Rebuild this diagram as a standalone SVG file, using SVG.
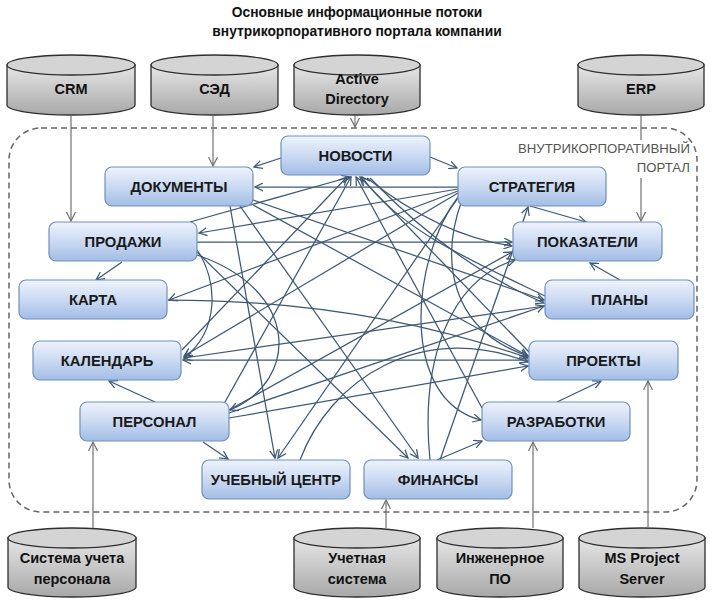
<svg xmlns="http://www.w3.org/2000/svg" width="713" height="600" viewBox="0 0 713 600">
<defs>
<linearGradient id="gBox" x1="0" y1="0" x2="0" y2="1">
<stop offset="0" stop-color="#eef3fc"/>
<stop offset="0.5" stop-color="#cbdaf2"/>
<stop offset="1" stop-color="#a2bde6"/>
</linearGradient>
<linearGradient id="gCyl" x1="0" y1="0" x2="0" y2="1">
<stop offset="0" stop-color="#e6e6e6"/>
<stop offset="1" stop-color="#a8a8a8"/>
</linearGradient>
<marker id="ah" viewBox="0 0 10 10" refX="9" refY="5" markerWidth="9" markerHeight="9" markerUnits="userSpaceOnUse" orient="auto-start-reverse">
<path d="M0,0.5 L9,5 L0,9.5" fill="none" stroke="#3f5a78" stroke-width="1.4"/>
</marker>
<marker id="ahg" viewBox="0 0 10 10" refX="9" refY="5" markerWidth="10" markerHeight="10" markerUnits="userSpaceOnUse" orient="auto-start-reverse">
<path d="M0,0.5 L9,5 L0,9.5" fill="none" stroke="#707070" stroke-width="1.2"/>
</marker>
</defs>
<style>
.t{font-family:"Liberation Sans",Arial,sans-serif;font-weight:bold;fill:#111;text-anchor:middle}
.node rect{fill:url(#gBox);stroke:#6f8fbf;stroke-width:1.2}
.node text{font-family:"Liberation Sans",Arial,sans-serif;font-weight:bold;font-size:14.8px;fill:#1a1a1a;text-anchor:middle}
.db path.body{fill:url(#gCyl);stroke:#2e2e2e;stroke-width:1.3}
.db ellipse{fill:#d4d4d4;stroke:#2e2e2e;stroke-width:1.3}
.db text{font-family:"Liberation Sans",Arial,sans-serif;font-weight:bold;font-size:14.5px;fill:#111;text-anchor:middle}
.ext line{stroke:#707070;stroke-width:1.2;fill:none}
.int path,.int line{stroke:#3d5876;stroke-width:1.25;fill:none;marker-end:url(#ah)}
.lbl{font-family:"Liberation Sans",Arial,sans-serif;font-size:13.2px;fill:#555;text-anchor:end}
</style>
<rect width="713" height="600" fill="#ffffff"/>

<text class="t" x="357" y="17" font-size="13.8">Основные информационные потоки</text>
<text class="t" x="357" y="36" font-size="13.8">внутрикорпоративного портала компании</text>

<rect x="9" y="128" width="688" height="384" rx="32" fill="none" stroke="#666" stroke-width="1.5" stroke-dasharray="6 4"/>
<text class="lbl" x="690" y="153">ВНУТРИКОРПОРАТИВНЫЙ</text>
<text class="lbl" x="690" y="172">ПОРТАЛ</text>

<!-- Databases -->
<g id="db-crm" class="db">
<path class="body" d="M7,65 V105 A64,10 0 0 0 135,105 V65 Z"/>
<ellipse cx="71" cy="65" rx="64" ry="10"/>
<text x="71" y="94">CRM</text>
</g>
<g id="db-sed" class="db">
<path class="body" d="M151,65 V105 A63.5,10 0 0 0 278,105 V65 Z"/>
<ellipse cx="214.5" cy="65" rx="63.5" ry="10"/>
<text x="214.5" y="94">СЭД</text>
</g>
<g id="db-ad" class="db">
<path class="body" d="M294,65 V105 A63,10 0 0 0 420,105 V65 Z"/>
<ellipse cx="357" cy="65" rx="63" ry="10"/>
<text x="357" y="84">Active</text>
<text x="357" y="104">Directory</text>
</g>
<g id="db-erp" class="db">
<path class="body" d="M578,65 V105 A63,10 0 0 0 704,105 V65 Z"/>
<ellipse cx="641" cy="65" rx="63" ry="10"/>
<text x="641" y="94">ERP</text>
</g>
<g id="db-hr" class="db">
<path class="body" d="M8,538 V587 A64,10 0 0 0 136,587 V538 Z"/>
<ellipse cx="72" cy="538" rx="64" ry="10"/>
<text x="72" y="563">Система учета</text>
<text x="72" y="584">персонала</text>
</g>
<g id="db-acc" class="db">
<path class="body" d="M294,538 V587 A63,10 0 0 0 420,587 V538 Z"/>
<ellipse cx="357" cy="538" rx="63" ry="10"/>
<text x="357" y="563">Учетная</text>
<text x="357" y="584">система</text>
</g>
<g id="db-eng" class="db">
<path class="body" d="M437,538 V587 A63,10 0 0 0 563,587 V538 Z"/>
<ellipse cx="500" cy="538" rx="63" ry="10"/>
<text x="500" y="563">Инженерное</text>
<text x="500" y="584">ПО</text>
</g>
<g id="db-msp" class="db">
<path class="body" d="M579,538 V587 A63,10 0 0 0 705,587 V538 Z"/>
<ellipse cx="642" cy="538" rx="63" ry="10"/>
<text x="642" y="563">MS Project</text>
<text x="642" y="584">Server</text>
</g>

<!-- Connectors -->
<g id="connectors">
<g class="ext">
<line x1="71" y1="115" x2="71" y2="221" marker-end="url(#ahg)"/>
<line x1="213" y1="115" x2="213" y2="166" marker-end="url(#ahg)"/>
<line x1="355" y1="115" x2="355" y2="127" marker-end="url(#ahg)"/>
<line x1="641" y1="115" x2="641" y2="140"/>
<line x1="641" y1="178" x2="641" y2="221" marker-end="url(#ahg)"/>
<line x1="93" y1="528" x2="93" y2="442" marker-end="url(#ahg)"/>
<line x1="386" y1="528" x2="386" y2="500" marker-end="url(#ahg)"/>
<line x1="533" y1="528" x2="533" y2="442" marker-end="url(#ahg)"/>
<line x1="648" y1="528" x2="648" y2="381" marker-end="url(#ahg)"/>
</g>
<g class="int">
<line x1="281" y1="158" x2="254" y2="167"/>
<line x1="430" y1="157" x2="457" y2="168"/>
<line x1="458" y1="187" x2="255" y2="187"/>
<line x1="122" y1="262" x2="96" y2="280"/>
<line x1="530" y1="206" x2="586" y2="222"/>
<line x1="620" y1="280" x2="590" y2="263"/>
<line x1="155" y1="402" x2="109" y2="381"/>
<line x1="203" y1="442" x2="228" y2="459"/>
<line x1="557" y1="402" x2="601" y2="381"/>
<line x1="437" y1="460" x2="482" y2="441"/>
<line x1="197" y1="242" x2="512" y2="242"/>
<line x1="529" y1="360" x2="183" y2="360"/>
<line x1="458" y1="189" x2="199" y2="233"/>
<line x1="458" y1="191" x2="169" y2="300"/>
<line x1="458" y1="193" x2="184" y2="356"/>
<line x1="460" y1="195" x2="278" y2="458"/>
<path d="M458,197 C410,260 400,400 481,420"/>
<path d="M462,200 C440,260 450,330 528,356"/>
<line x1="253" y1="200" x2="544" y2="300"/>
<line x1="253" y1="205" x2="528" y2="356"/>
<line x1="240" y1="206" x2="418" y2="458"/>
<line x1="230" y1="206" x2="275" y2="458"/>
<path d="M197,250 C218,280 220,330 184,358"/>
<path d="M197,255 C300,290 300,380 230,410"/>
<line x1="197" y1="252" x2="408" y2="458"/>
<line x1="190" y1="222" x2="350" y2="177"/>
<line x1="182" y1="350" x2="347" y2="177"/>
<line x1="225" y1="402" x2="351" y2="177"/>
<line x1="529" y1="352" x2="360" y2="177"/>
<path d="M545,296 C470,260 400,230 362,177"/>
<line x1="482" y1="408" x2="356" y2="177"/>
<line x1="229" y1="410" x2="512" y2="252"/>
<line x1="229" y1="413" x2="544" y2="306"/>
<line x1="229" y1="418" x2="528" y2="366"/>
<line x1="545" y1="306" x2="184" y2="358"/>
<line x1="440" y1="460" x2="528" y2="207"/>
<path d="M430,460 C420,360 450,280 515,260"/>
<path d="M300,460 C330,380 420,320 528,362"/>
<path d="M367,178 C420,220 470,240 512,246"/>
<path d="M370,178 C430,240 490,280 544,303"/>
<path d="M168,300 C300,300 420,320 528,358"/>
</g>
</g>

<!-- Nodes -->
<g id="n-news" class="node"><rect x="281" y="136" width="149" height="39" rx="7"/><text x="355.5" y="160.5">НОВОСТИ</text></g>
<g id="n-docs" class="node"><rect x="105" y="167" width="148" height="39" rx="7"/><text x="179" y="192">ДОКУМЕНТЫ</text></g>
<g id="n-strat" class="node"><rect x="458" y="167" width="148" height="39" rx="7"/><text x="532" y="192">СТРАТЕГИЯ</text></g>
<g id="n-sales" class="node"><rect x="49" y="222" width="148" height="39" rx="7"/><text x="123" y="247">ПРОДАЖИ</text></g>
<g id="n-kpi" class="node"><rect x="513" y="222" width="149" height="39" rx="7"/><text x="587.5" y="247">ПОКАЗАТЕЛИ</text></g>
<g id="n-map" class="node"><rect x="19" y="280" width="148" height="39" rx="7"/><text x="93" y="305">КАРТА</text></g>
<g id="n-plans" class="node"><rect x="545" y="280" width="149" height="39" rx="7"/><text x="619.5" y="305">ПЛАНЫ</text></g>
<g id="n-cal" class="node"><rect x="33" y="341" width="148" height="39" rx="7"/><text x="107" y="366">КАЛЕНДАРЬ</text></g>
<g id="n-proj" class="node"><rect x="529" y="341" width="149" height="39" rx="7"/><text x="603.5" y="366">ПРОЕКТЫ</text></g>
<g id="n-staff" class="node"><rect x="80" y="402" width="149" height="39" rx="7"/><text x="154.5" y="427">ПЕРСОНАЛ</text></g>
<g id="n-dev" class="node"><rect x="482" y="402" width="148" height="39" rx="7"/><text x="556" y="427">РАЗРАБОТКИ</text></g>
<g id="n-edu" class="node"><rect x="202" y="460" width="148" height="39" rx="7"/><text x="276" y="485">УЧЕБНЫЙ ЦЕНТР</text></g>
<g id="n-fin" class="node"><rect x="364" y="460" width="148" height="39" rx="7"/><text x="438" y="485">ФИНАНСЫ</text></g>
</svg>
